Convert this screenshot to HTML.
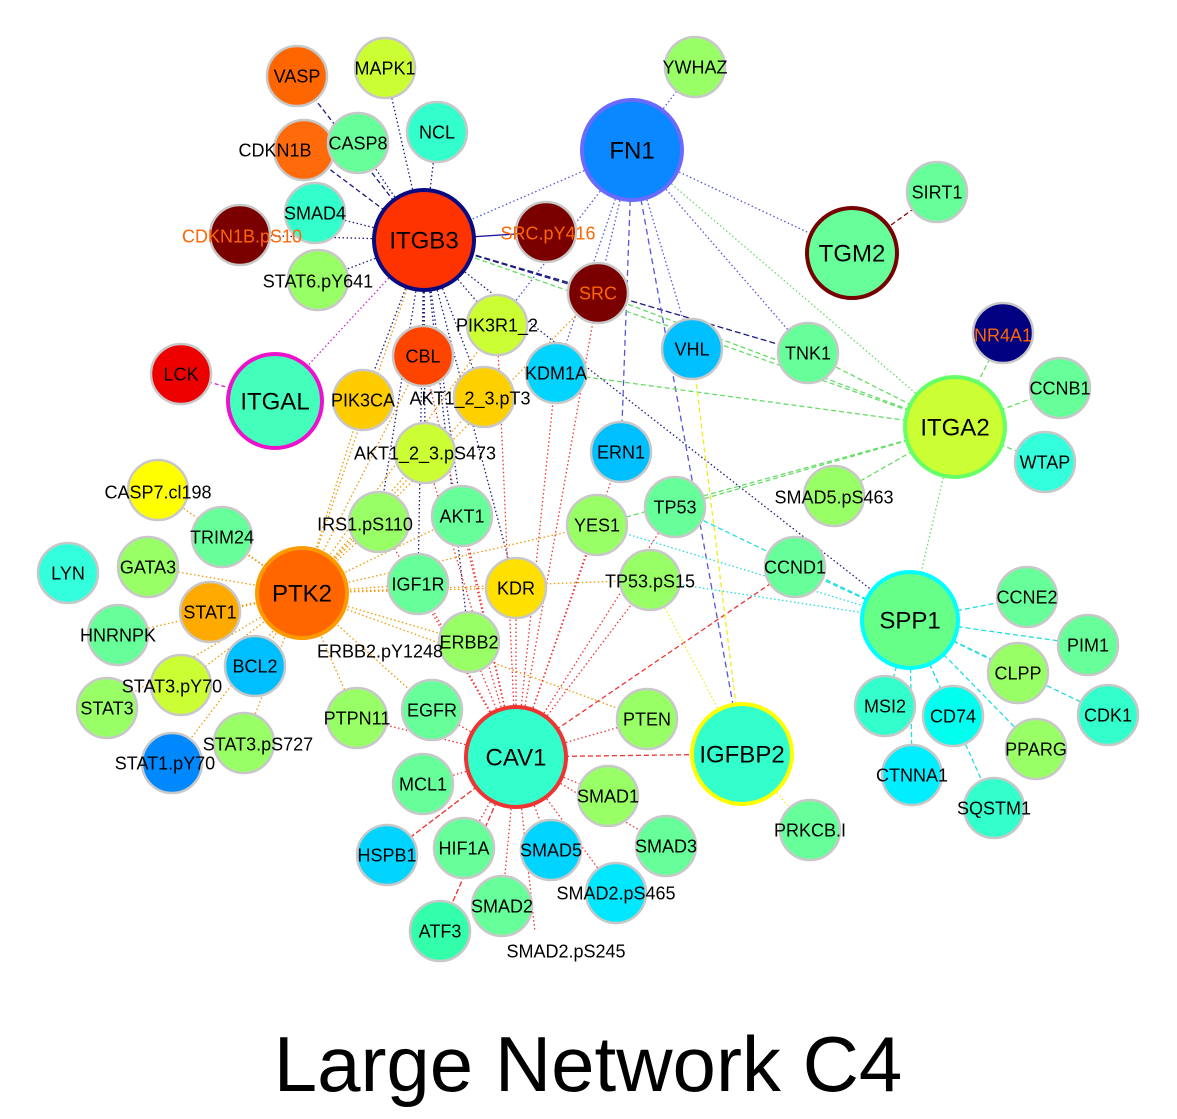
<!DOCTYPE html>
<html><head><meta charset="utf-8"><style>
html,body{margin:0;padding:0;background:#fff;width:1177px;height:1119px;overflow:hidden}
svg{position:absolute;left:0;top:0}
text{font-family:"Liberation Sans",Arial,sans-serif}
</style></head><body>
<svg id="s" width="1177" height="1119" viewBox="0 0 1177 1119"></svg>
<script>
const N={
ITGB3:[424,240,50,'#ff3300','#0a0a80',24],
FN1:[632,150,50,'#0a88ff','#6a6aff',24],
TGM2:[852,253,45,'#66ff99','#770000',24],
ITGAL:[275,401,47,'#44ffbb','#ee11cc',24],
ITGA2:[955,427,50,'#ccff33','#66ff66',24],
PTK2:[302,593,45,'#ff6600','#ff9900',24],
SPP1:[910,620,48,'#66ff88','#00ffff',24],
CAV1:[516,757,50,'#33ffcc','#ee3333',24],
IGFBP2:[742,754,50,'#33ffcc','#ffff00',24],
VASP:[297,76,30,'#ff6600'],MAPK1:[385,68,30,'#ccff33'],YWHAZ:[695,67,30,'#99ff66'],
CDKN1B:[304,150,30,'#ff6a0a'],CASP8:[358,143,30,'#66ff99'],NCL:[437,132,30,'#33ffcc'],
SIRT1:[937,192,30,'#66ff99'],SMAD4:[315,213,30,'#33ffcc'],'CDKN1B.pS10':[240,235,30,'#7a0000'],
'SRC.pY416':[546,232,30,'#7a0000'],'STAT6.pY641':[318,280,30,'#99ff66'],SRC:[598,293,30,'#7a0000'],
PIK3R1_2:[497,325,30,'#ccff33'],NR4A1:[1003,333,30,'#000080'],LCK:[181,374,30,'#ee0000'],
CBL:[423,356,30,'#ff4400'],TNK1:[808,353,30,'#66ff99'],VHL:[692,349,30,'#00bfff'],
KDM1A:[556,373,30,'#00d4ff'],PIK3CA:[363,400,30,'#ffcc00'],'AKT1_2_3.pT308':[484,397,30,'#ffd000'],
CCNB1:[1060,388,30,'#66ff99'],'AKT1_2_3.pS473':[425,453,30,'#ccff33'],ERN1:[621,452,30,'#00bfff'],
WTAP:[1045,462,30,'#33ffdd'],'CASP7.cl198':[158,490,30,'#ffff00'],'SMAD5.pS463':[834,496,30,'#99ff66'],
TP53:[675,507,30,'#66ff99'],'IRS1.pS1101':[379,522,30,'#99ff66'],AKT1:[462,516,30,'#66ff99'],
YES1:[597,525,30,'#99ff66'],TRIM24:[222,537,30,'#66ff99'],LYN:[68,573,30,'#33ffdd'],
GATA3:[148,567,30,'#99ff66'],IGF1R:[418,584,30,'#66ff99'],KDR:[516,588,30,'#ffe000'],
'TP53.pS15':[650,580,30,'#99ff66'],CCND1:[795,567,30,'#66ff99'],CCNE2:[1027,597,30,'#66ff99'],
STAT1:[210,612,30,'#ffaa00'],HNRNPK:[118,635,30,'#66ff99'],PIM1:[1088,645,30,'#66ff99'],
BCL2:[255,666,30,'#00bfff'],ERBB2:[469,642,30,'#99ff66'],CLPP:[1018,673,30,'#99ff66'],
'STAT3.pY705':[181,685,30,'#ccff33'],STAT3:[107,708,30,'#99ff66'],PTPN11:[357,718,30,'#99ff66'],
EGFR:[432,710,30,'#66ff99'],PTEN:[647,719,30,'#99ff66'],MSI2:[885,706,30,'#33ffcc'],
CD74:[953,716,30,'#00ffee'],CDK1:[1108,715,30,'#33ffcc'],'STAT1.pY701':[172,763,30,'#0088ff'],
'STAT3.pS727':[244,743,30,'#99ff66'],PPARG:[1036,749,30,'#99ff66'],MCL1:[423,784,30,'#66ff99'],
CTNNA1:[912,775,30,'#00eeff'],SMAD1:[608,796,30,'#99ff66'],SQSTM1:[994,808,30,'#33ffcc'],
'PRKCB.I':[810,830,30,'#66ff99'],HSPB1:[387,855,30,'#00d4ff'],HIF1A:[464,848,30,'#66ff99'],
SMAD5:[551,850,30,'#00d4ff'],SMAD3:[666,846,30,'#66ff99'],'SMAD2.pS465':[616,893,30,'#00e8ff'],
SMAD2:[502,906,30,'#66ff99'],ATF3:[440,931,30,'#33ffaa'],'SMAD2.pS245':[535,932,0,'none'],
'ERBB2.pY1248':[380,651,0,'none']
};
const LBL={CDKN1B:[275,150],'CDKN1B.pS10':[242,236],'SRC.pY416':[548,233],'STAT6.pY641':[318,281],
'AKT1_2_3.pT308':[470,398,'AKT1_2_3.pT3'],'AKT1_2_3.pS473':[425,453],'CASP7.cl198':[158,492],
'SMAD5.pS463':[834,497],'IRS1.pS1101':[365,524,'IRS1.pS110'],'TP53.pS15':[650,581],
'STAT3.pY705':[172,686,'STAT3.pY70'],'STAT1.pY701':[165,763,'STAT1.pY70'],'STAT3.pS727':[258,744],
'SMAD2.pS465':[616,893],'SMAD2.pS245':[566,951],'PRKCB.I':[810,830],'ERBB2.pY1248':[380,651],
PIK3R1_2:[497,325],NR4A1:[1003,335],CTNNA1:[912,775],SQSTM1:[994,808],KDM1A:[556,373]};
const ORANGE=['CDKN1B.pS10','SRC.pY416','SRC','NR4A1'];
const E=[
['ITGB3',['VASP','CDKN1B'],'#1a1a80','5,3'],
['ITGB3',['MAPK1','NCL','CASP8','SMAD4','CDKN1B.pS10','STAT6.pY641','CBL','PIK3CA','AKT1_2_3.pT308','PIK3R1_2','AKT1','IGF1R','KDR','AKT1_2_3.pS473','IRS1.pS1101','SPP1','ERBB2'],'#1a1a80','1.5,2.5'],
['ITGB3',['TNK1','SRC'],'#1a1a80','6,3'],
['ITGB3',['SRC.pY416'],'#1a1aa0',''],
['ITGB3',['ITGAL'],'#cc22cc','1.5,2.5'],['LCK',['ITGAL'],'#cc22cc','4,3'],
['FN1',['YWHAZ','TGM2','ITGB3','VHL','KDM1A','TNK1','SRC','PIK3R1_2'],'#5555dd','1.5,2.5'],
['FN1',['ERN1','IGFBP2'],'#5555dd','6,4'],
['FN1',['ITGA2'],'#66dd66','1.5,2.5'],
['ITGA2',['NR4A1','CCNB1','WTAP','TNK1','SMAD5.pS463','TP53','KDM1A','ITGB3','SRC','YES1'],'#66dd66','5,3'],
['ITGA2',['SPP1'],'#66dd66','1.5,2.5'],
['PTK2',['CASP7.cl198','TRIM24','GATA3','STAT1','HNRNPK','BCL2','STAT3.pY705','STAT3','STAT3.pS727','STAT1.pY701','IGF1R','KDR','YES1','ERBB2','PTPN11','EGFR','ITGB3','AKT1','IRS1.pS1101','PIK3CA','CBL','SRC','PIK3R1_2','AKT1_2_3.pT308','TP53.pS15','PTEN','AKT1_2_3.pS473'],'#ee9900','1.5,2.5'],
['CAV1',['MCL1','HSPB1','HIF1A','SMAD5','SMAD1','SMAD3','SMAD2','SMAD2.pS465','ATF3','SMAD2.pS245','PTEN','EGFR','ERBB2','PTPN11','IGF1R','KDR','AKT1','YES1','ERN1','TP53','SRC','PIK3R1_2','CBL','AKT1_2_3.pS473','KDM1A','IRS1.pS1101','TP53.pS15'],'#ee3333','1.5,2.5'],
['CAV1',['IGFBP2','CCND1','HSPB1','ATF3'],'#ee3333','5,3'],
['SPP1',['CCNE2','PIM1','CLPP','CDK1','PPARG','SQSTM1','CTNNA1','CD74','MSI2','TP53','CCND1'],'#22dddd','5,3'],
['SPP1',['YES1','TP53.pS15'],'#22dddd','1.5,2.5'],
['IGFBP2',['PRKCB.I','TP53.pS15'],'#eeee22','1.5,2.5'],['IGFBP2',['VHL'],'#eeee22','5,3'],
['TGM2',['SIRT1'],'#880000','5,3']];
const s=document.getElementById('s');let h='';
for(const [a,bs,c,d] of E)for(const b of bs){const p=N[a],q=N[b];
h+=`<line x1="${p[0]}" y1="${p[1]}" x2="${q[0]}" y2="${q[1]}" stroke="${c}" stroke-width="1.3" ${d?`stroke-dasharray="${d}"`:''}/>`;}
const big=[],small=[];for(const k in N)(N[k][4]?big:small).push(k);
for(const k of [...small,...big]){const n=N[k];if(!n[2])continue;
h+=`<circle cx="${n[0]}" cy="${n[1]}" r="${n[2]}" fill="${n[3]}" stroke="${n[4]||'#c8c8c8'}" stroke-width="${n[4]?4:2.5}"/>`;}
for(const k in N){const n=N[k],l=LBL[k]||[n[0],n[1]];const fs=n[5]||18;
h+=`<text x="${l[0]}" y="${l[1]+fs*0.36}" font-size="${fs}" text-anchor="middle" fill="${ORANGE.includes(k)?'#ff6600':'#000'}">${l[2]||k}</text>`;}
h+=`<text x="588" y="1091" font-size="78" text-anchor="middle" fill="#000">Large Network C4</text>`;
s.innerHTML=h;
</script>
</body></html>
